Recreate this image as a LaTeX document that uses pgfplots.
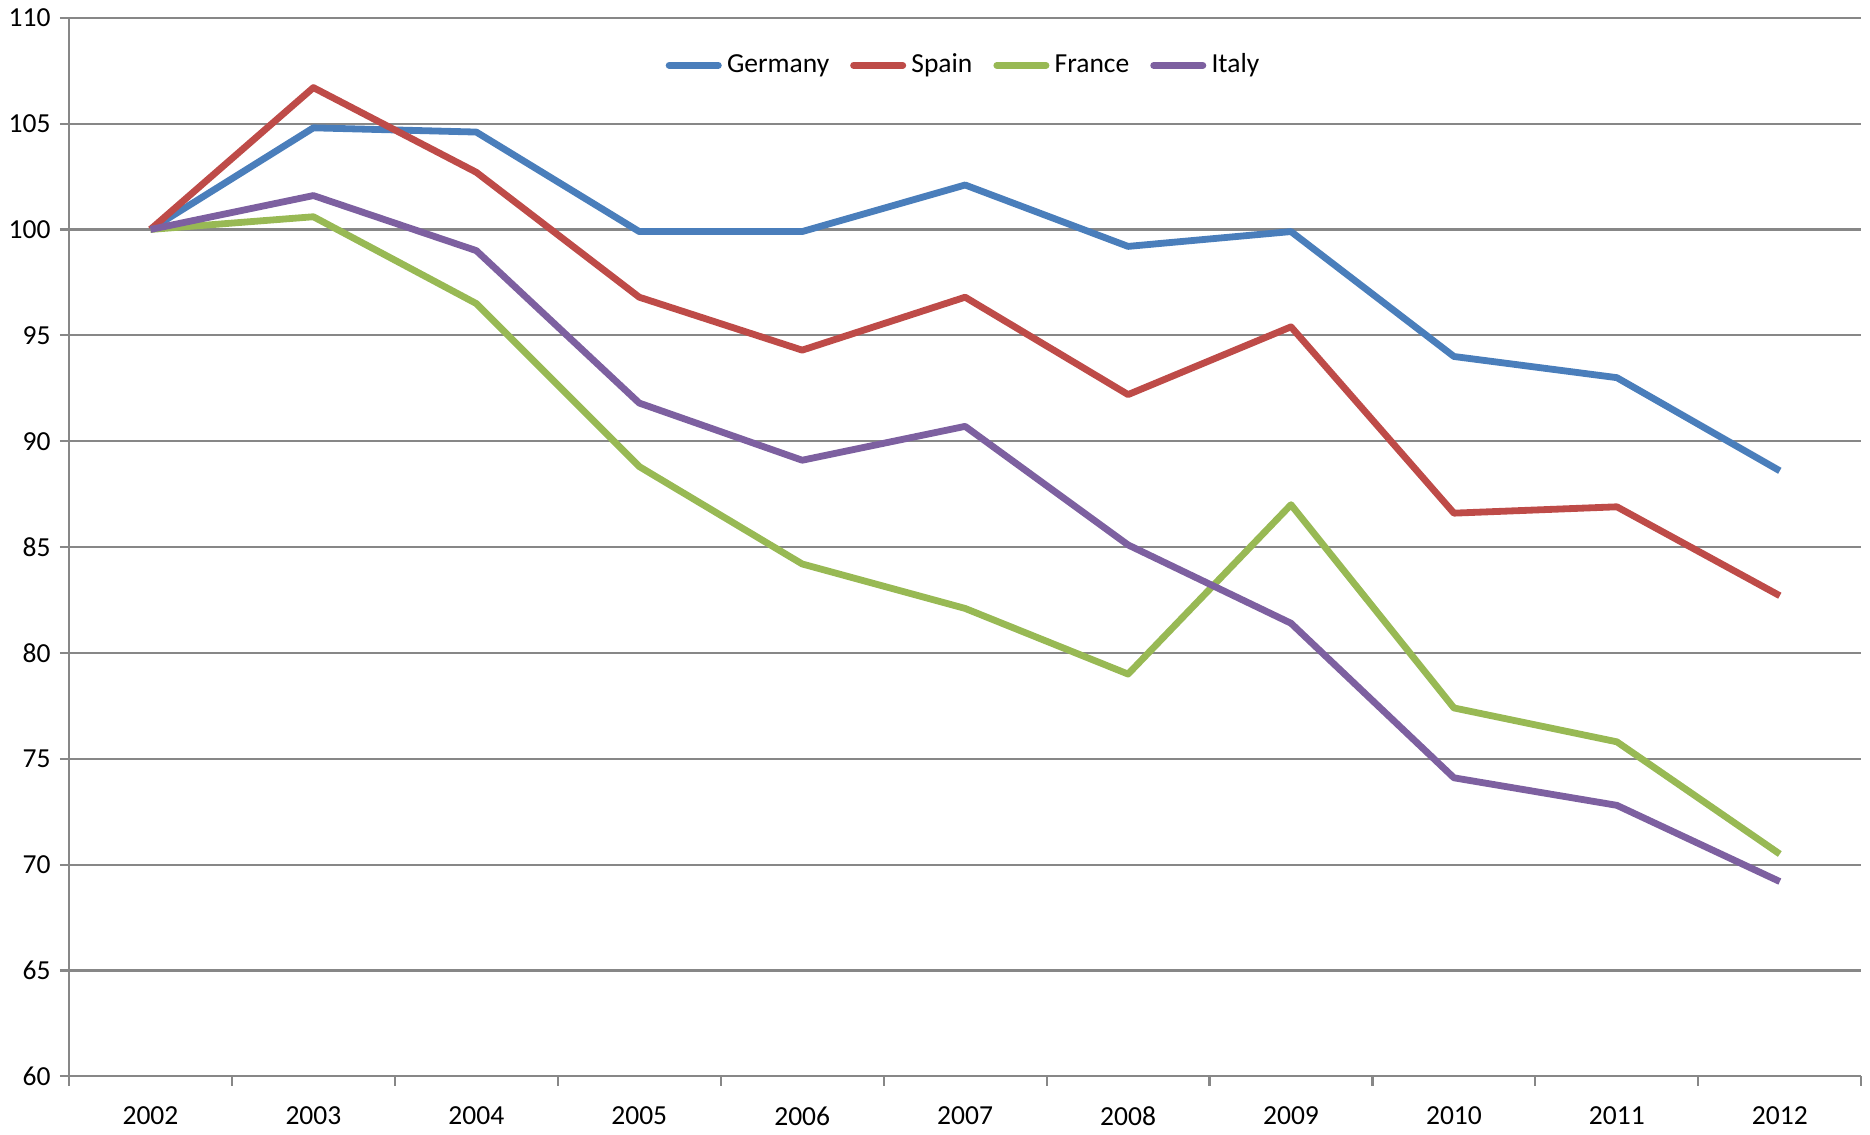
\documentclass[border=0pt]{standalone}
\usepackage{pgfplots}
\pgfplotsset{compat=1.18}
\usepackage{fontspec}
\setmainfont{Carlito}

\definecolor{gerblue}{HTML}{4A7EBB}
\definecolor{spared}{HTML}{BE4B48}
\definecolor{fragreen}{HTML}{98B954}
\definecolor{itapurple}{HTML}{7D60A0}
\definecolor{gridgray}{HTML}{878787}

\begin{document}
\begin{tikzpicture}
\begin{axis}[
  scale only axis,
  width=684pt, height=404pt,
  xmin=-0.5, xmax=10.5,
  ymin=60, ymax=110,
  axis x line*=bottom, axis y line*=left,
  axis line style={gridgray, line width=0.8pt, -},
  tick align=outside,
  major tick length=3.5pt,
  tick style={gridgray, line width=0.8pt},
  ytick={60,65,...,110},
  ymajorgrids,
  grid style={gridgray, line width=0.8pt},
  xtick={-0.5,0.5,...,10.5},
  xticklabels={},
  extra x ticks={0,1,...,10},
  extra x tick labels={2002,2003,2004,2005,2006,2007,2008,2009,2010,2011,2012},
  extra x tick style={major tick length=0pt, xticklabel style={yshift=-8pt}},
  yticklabel style={xshift=0pt},
  /pgf/number format/assume math mode=true,
  tick label style={font=\fontsize{10.5}{12}\selectfont},
  legend style={at={(0.5,0.955)}, anchor=center, draw=none, fill=none,
    font=\fontsize{10.5}{12}\selectfont,
    legend columns=-1,
    /tikz/every even column/.append style={column sep=6pt}},
  legend image code/.code={\draw[#1, line cap=round] (0cm,0cm) -- (0.66cm,0cm);},
  every axis plot/.append style={line width=2.6pt, line join=round},
]
\addplot[gerblue] coordinates {(0,100) (1,104.8) (2,104.6) (3,99.9) (4,99.9) (5,102.1) (6,99.2) (7,99.9) (8,94.0) (9,93.0) (10,88.6)};
\addlegendentry{Germany}
\addplot[spared] coordinates {(0,100) (1,106.7) (2,102.7) (3,96.8) (4,94.3) (5,96.8) (6,92.2) (7,95.4) (8,86.6) (9,86.9) (10,82.7)};
\addlegendentry{Spain}
\addplot[fragreen] coordinates {(0,100) (1,100.6) (2,96.5) (3,88.8) (4,84.2) (5,82.1) (6,79.0) (7,87.0) (8,77.4) (9,75.8) (10,70.5)};
\addlegendentry{France}
\addplot[itapurple] coordinates {(0,100) (1,101.6) (2,99.0) (3,91.8) (4,89.1) (5,90.7) (6,85.1) (7,81.4) (8,74.1) (9,72.8) (10,69.2)};
\addlegendentry{Italy}
\end{axis}
\end{tikzpicture}
\end{document}
